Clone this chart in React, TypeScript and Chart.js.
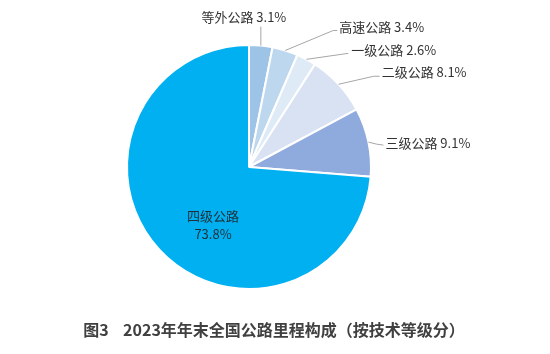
import React, { useEffect, useRef } from "react";
import { Chart, registerables } from "chart.js";

Chart.register(...registerables);

const categories = ["等外公路", "高速公路", "一级公路", "二级公路", "三级公路", "四级公路"];
const shares = [3.1, 3.4, 2.6, 8.1, 9.1, 73.8];
const colors = ["#9DC3E6", "#BDD7EE", "#DEEBF7", "#D9E2F3", "#8FAADC", "#00B0F0"];
const titleText = "图3    2023年年末全国公路里程构成（按技术等级分）";

const FONT = "'Microsoft YaHei', 'Noto Sans CJK SC', 'Noto Sans', sans-serif";

// label layout: leader line points relative to slice edge point, text placement relative to last point
const labelLayout: any[] = [
  { pts: [[0, -19]], tx: -17, ty: -10, align: "center" },
  { pts: [[48, -20], [52, -20]], tx: 2, ty: -3, align: "left" },
  { pts: [[42, -6]], tx: 3, ty: -3, align: "left" },
  { pts: [[35, -8], [41, -8]], tx: 2, ty: -4, align: "left" },
  { pts: [[8, 2], [15, 3]], tx: 2, ty: -2, align: "left" },
  null,
];

const labelPlugin = {
  id: "customLabels",
  afterDatasetsDraw(chart: any) {
    const ctx = chart.ctx;
    const meta = chart.getDatasetMeta(0);
    ctx.save();
    meta.data.forEach((arc: any, i: number) => {
      const { x, y, startAngle, endAngle, outerRadius } = arc.getProps(
        ["x", "y", "startAngle", "endAngle", "outerRadius"],
        true
      );
      const mid = (startAngle + endAngle) / 2;
      const text = `${categories[i]} ${shares[i].toFixed(1)}%`;
      const lay = labelLayout[i];
      if (!lay) {
        ctx.fillStyle = "#1f2f3a";
        ctx.font = `13px ${FONT}`;
        ctx.textAlign = "center";
        ctx.textBaseline = "middle";
        ctx.fillText(categories[i], x - 36, y + 49);
        ctx.fillText(`${shares[i].toFixed(1)}%`, x - 36, y + 67);
        return;
      }
      const ex = x + Math.cos(mid) * outerRadius;
      const ey = y + Math.sin(mid) * outerRadius;
      ctx.strokeStyle = "#A6A6A6";
      ctx.lineWidth = 1;
      ctx.beginPath();
      ctx.moveTo(ex, ey);
      let lx = ex;
      let ly = ey;
      lay.pts.forEach((p: number[]) => {
        lx = ex + p[0];
        ly = ey + p[1];
        ctx.lineTo(lx, ly);
      });
      ctx.stroke();
      ctx.fillStyle = "#333333";
      ctx.font = `13px ${FONT}`;
      ctx.textAlign = lay.align;
      ctx.textBaseline = "middle";
      ctx.fillText(text, lx + lay.tx, ly + lay.ty);
    });
    ctx.fillStyle = "#404040";
    ctx.font = `bold 16px ${FONT}`;
    ctx.textAlign = "center";
    ctx.textBaseline = "middle";
    ctx.fillText(titleText, 274, 330);
    ctx.restore();
  },
};

export default function App() {
  const ref = useRef<HTMLCanvasElement>(null);
  useEffect(() => {
    document.body.style.margin = "0";
    const chart = new Chart(ref.current!, {
      type: "pie",
      data: {
        labels: categories,
        datasets: [
          {
            data: shares,
            backgroundColor: colors,
            borderColor: "#FFFFFF",
            borderWidth: 2,
          },
        ],
      },
      options: {
        responsive: false,
        animation: false,
        layout: { padding: { top: 44, bottom: 64, left: 0, right: 52 } },
        plugins: {
          legend: { display: false },
          tooltip: { enabled: false },
          title: { display: false },
        },
      },
      plugins: [labelPlugin],
    });
    return () => chart.destroy();
  }, []);
  return (
    <div style={{ width: 550, height: 354, background: "#fff" }}>
      <canvas ref={ref} width={550} height={354} style={{ display: "block" }} />
    </div>
  );
}
